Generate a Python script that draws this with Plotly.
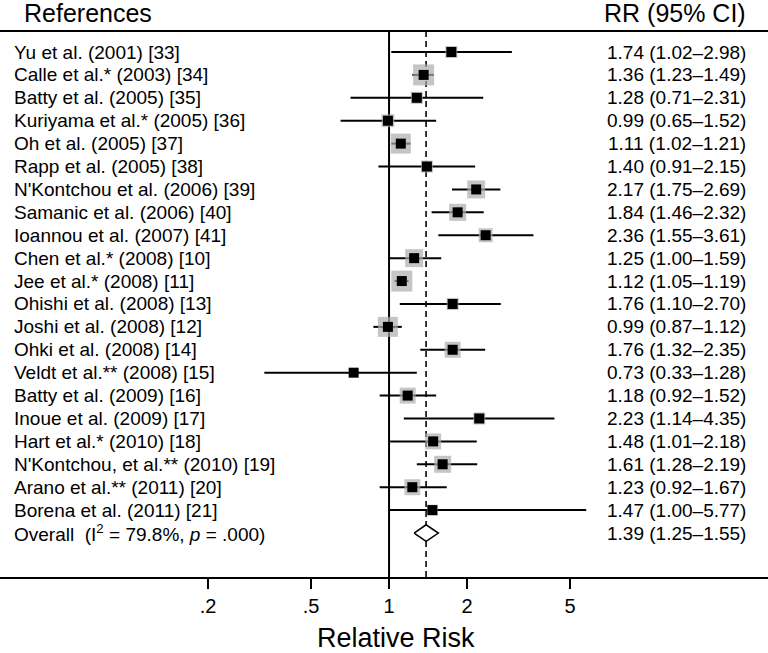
import plotly.graph_objects as go
import math

studies = ["Yu et al. (2001) [33]", "Calle et al.* (2003) [34]", "Batty et al. (2005) [35]",
           "Kuriyama et al.* (2005) [36]", "Oh et al. (2005) [37]", "Rapp et al. (2005) [38]",
           "N'Kontchou et al. (2006) [39]", "Samanic et al. (2006) [40]", "Ioannou et al. (2007) [41]",
           "Chen et al.* (2008) [10]", "Jee et al.* (2008) [11]", "Ohishi et al. (2008) [13]",
           "Joshi et al. (2008) [12]", "Ohki et al. (2008) [14]", "Veldt et al.** (2008) [15]",
           "Batty et al. (2009) [16]", "Inoue et al. (2009) [17]", "Hart et al.* (2010) [18]",
           "N'Kontchou, et al.** (2010) [19]", "Arano et al.** (2011) [20]", "Borena et al. (2011) [21]"]
rr = [1.74, 1.36, 1.28, 0.99, 1.11, 1.40, 2.17, 1.84, 2.36, 1.25, 1.12, 1.76, 0.99, 1.76, 0.73,
      1.18, 2.23, 1.48, 1.61, 1.23, 1.47]
lo = [1.02, 1.23, 0.71, 0.65, 1.02, 0.91, 1.75, 1.46, 1.55, 1.00, 1.05, 1.10, 0.87, 1.32, 0.33,
      0.92, 1.14, 1.01, 1.28, 0.92, 1.00]
hi = [2.98, 1.49, 2.31, 1.52, 1.21, 2.15, 2.69, 2.32, 3.61, 1.59, 1.19, 2.70, 1.12, 2.35, 1.28,
      1.52, 4.35, 2.18, 2.19, 1.67, 5.77]
weights = [2.8, 8.5, 2.8, 3.2, 7.7, 2.8, 6.2, 5.6, 3.8, 6.2, 8.5, 2.8, 7.7, 4.9, 1.5,
           4.9, 2.8, 4.9, 5.6, 4.9, 2.3]
overall_label = "Overall  (I<sup>2</sup> = 79.8%, <i>p</i> = .000)"
overall = (1.39, 1.25, 1.55)
tick_vals = [0.2, 0.5, 1, 2, 5]
tick_text = [".2", ".5", "1", "2", "5"]

FONT = "Liberation Sans, Arial, sans-serif"
n = len(studies)
ys = list(range(n))
y_over = n

fig = go.Figure()

# CI lines
cx, cy = [], []
for i in range(n):
    cx += [lo[i], hi[i], None]
    cy += [i, i, None]
fig.add_trace(go.Scatter(x=cx, y=cy, mode="lines", line=dict(color="black", width=2),
                         hoverinfo="skip", showlegend=False))
# weight boxes
fig.add_trace(go.Scatter(x=rr, y=ys, mode="markers",
                         marker=dict(symbol="square", size=[7.2 * math.sqrt(w) for w in weights],
                                     color="#adadad", line=dict(width=0)),
                         showlegend=False))
# point estimates
fig.add_trace(go.Scatter(x=rr, y=ys, mode="markers",
                         marker=dict(symbol="square", size=10, color="black", line=dict(width=0)),
                         showlegend=False))
# overall diamond
h = 0.36
est, olo, ohi = overall
fig.add_trace(go.Scatter(x=[olo, est, ohi, est, olo], y=[y_over, y_over - h, y_over, y_over + h, y_over],
                         mode="lines", fill="toself", fillcolor="white",
                         line=dict(color="black", width=1.5), showlegend=False))

shapes = [
    dict(type="line", xref="x", yref="paper", x0=1, x1=1, y0=0, y1=1, layer="below",
         line=dict(color="black", width=2)),
    dict(type="line", xref="x", yref="paper", x0=est, x1=est, y0=0, y1=1, layer="below",
         line=dict(color="#222222", width=1.8, dash="6px,4px")),
]

ann = []
labels = studies + [overall_label]
rtext = [f"{rr[i]:.2f} ({lo[i]:.2f}–{hi[i]:.2f})" for i in range(n)] + \
        [f"{est:.2f} ({olo:.2f}–{ohi:.2f})"]
for i in range(n + 1):
    ann.append(dict(x=12 / 768, xref="paper", y=i, yref="y", text=labels[i], showarrow=False,
                    xanchor="left", yanchor="middle", font=dict(family=FONT, size=19, color="#000")))
    ann.append(dict(x=748 / 768, xref="paper", y=i, yref="y", text=rtext[i], showarrow=False,
                    xanchor="right", yanchor="middle", font=dict(family=FONT, size=19, color="#000")))
ann.append(dict(x=22 / 768, xref="paper", y=1.035, yref="paper", text="References", showarrow=False,
                xanchor="left", yanchor="middle", font=dict(family=FONT, size=25, color="#000")))
ann.append(dict(x=748 / 768, xref="paper", y=1.035, yref="paper", text="RR (95% CI)", showarrow=False,
                xanchor="right", yanchor="middle", font=dict(family=FONT, size=25, color="#000")))
ann.append(dict(x=396 / 768, xref="paper", y=-0.112, yref="paper", text="Relative Risk", showarrow=False,
                xanchor="center", yanchor="middle", font=dict(family=FONT, size=27, color="#000")))

fig.update_layout(
    width=768, height=653,
    margin=dict(l=0, r=0, t=32, b=76),
    paper_bgcolor="white", plot_bgcolor="white",
    shapes=shapes, annotations=ann,
    xaxis=dict(type="log", range=[-1.502, 1.463], tickvals=tick_vals, ticktext=tick_text,
               showgrid=False, zeroline=False, showline=True, linecolor="black", linewidth=2,
               mirror=True, ticks="outside", ticklen=10, tickwidth=2, tickcolor="black",
               tickfont=dict(family=FONT, size=20, color="#000")),
    yaxis=dict(range=[22.92, -0.873], visible=False, showgrid=False, zeroline=False),
)

fig.write_html("out.html", config={"displayModeBar": False},
               post_script="document.body.style.margin='0px';document.body.style.overflow='hidden';")
